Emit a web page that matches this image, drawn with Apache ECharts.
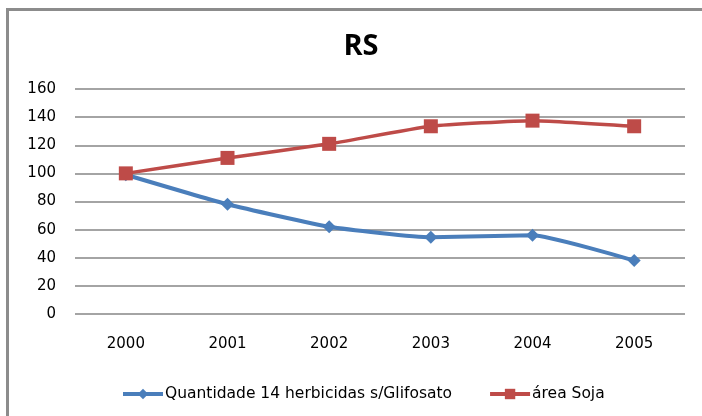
<!DOCTYPE html>
<html>
<head>
<meta charset="utf-8">
<script src="https://cdn.jsdelivr.net/npm/echarts@6/dist/echarts.min.js"></script>
<style>
  html, body { margin: 0; padding: 0; background: #fff; overflow: hidden; }
  #frame { position: absolute; left: 6px; top: 8px; width: 720px; height: 440px;
           border: 3px solid #8c8c8c; box-sizing: border-box; }
  #chart { position: absolute; left: 0; top: 0; width: 702px; height: 416px; }
</style>
</head>
<body>
<div id="frame"></div>
<div id="chart"></div>
<script>
// Years on the category axis
const years = ['2000', '2001', '2002', '2003', '2004', '2005'];
// Index (2000 = 100) of herbicide quantity and soybean area
const herbicidas = [99, 78, 62, 54.5, 56, 38];
const areaSoja = [100, 111, 121, 133.5, 137.5, 133.5];
// Value axis ticks
const yTicks = [0, 20, 40, 60, 80, 100, 120, 140, 160];

const chart = echarts.init(document.getElementById('chart'), null, { renderer: 'canvas' });
const labelFont = 'DejaVu Sans';

chart.setOption({
  animation: false,
  title: {
    text: 'RS',
    left: 356, top: 27, textAlign: 'center',
    textStyle: { fontFamily: 'Open Sans', fontWeight: 'bold', fontSize: 29, color: '#000' }
  },
  grid: { left: 75, right: 17, top: 89, bottom: 102 },
  legend: {
    top: 381, left: 116, itemGap: 36, itemWidth: 40, itemHeight: 13,
    lineStyle: { width: 4 },
    textStyle: { fontFamily: labelFont, fontSize: 15.5, color: '#000', padding: [0, 0, 0, -3] },
    data: ['Quantidade 14 herbicidas s/Glifosato', 'área Soja']
  },
  xAxis: {
    type: 'category', data: years, boundaryGap: true,
    axisLine: { show: false }, axisTick: { show: false },
    axisLabel: { fontFamily: labelFont, fontSize: 15, color: '#000', margin: 23 }
  },
  yAxis: {
    type: 'value', min: yTicks[0], max: yTicks[yTicks.length - 1], interval: 20,
    axisLine: { show: false }, axisTick: { show: false },
    axisLabel: { fontFamily: labelFont, fontSize: 15, color: '#000', margin: 19 },
    splitLine: { lineStyle: { color: '#868686', width: 1.5 } }
  },
  series: [
    {
      name: 'Quantidade 14 herbicidas s/Glifosato', type: 'line', data: herbicidas,
      smooth: 0.15, symbol: 'diamond', symbolSize: 13,
      itemStyle: { color: '#4a7ebb' }, lineStyle: { color: '#4a7ebb', width: 4 }
    },
    {
      name: 'área Soja', type: 'line', data: areaSoja,
      smooth: 0.15, symbol: 'rect', symbolSize: 14,
      itemStyle: { color: '#be4b48' }, lineStyle: { color: '#be4b48', width: 3.5 }
    }
  ]
});
</script>
</body>
</html>
